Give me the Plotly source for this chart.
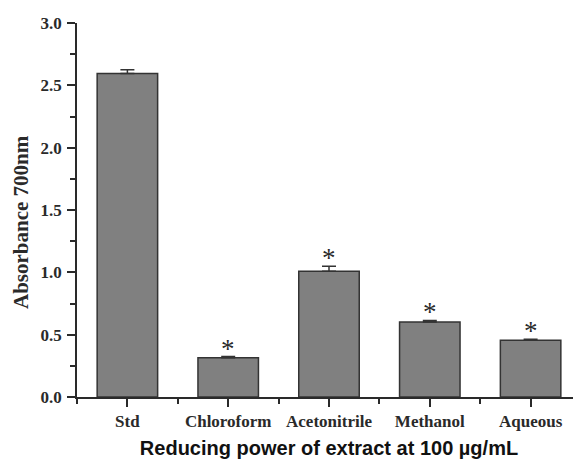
import plotly.graph_objects as go

categories = ["Std", "Chloroform", "Acetonitrile", "Methanol", "Aqueous"]
absorbance = [2.594, 0.314, 1.008, 0.602, 0.456]
errors = [0.03, 0.01, 0.04, 0.012, 0.008]
significance = ["", "*", "*", "*", "*"]
y_ticks = [0.0, 0.5, 1.0, 1.5, 2.0, 2.5, 3.0]

positions = list(range(len(categories)))
serif = "Liberation Serif, Times New Roman, serif"
sans = "Liberation Sans, Arial, sans-serif"
ink = "#2a2a2a"

fig = go.Figure()
fig.add_trace(go.Bar(
    x=positions, y=absorbance, width=0.6,
    marker=dict(color="#808080", line=dict(color="#333333", width=1.5)),
    error_y=dict(type="data", array=errors, arrayminus=[0] * len(errors), symmetric=False,
                 visible=True, color="#333333", thickness=1.5, width=7),
    showlegend=False,
))
for p, a, e, s in zip(positions, absorbance, errors, significance):
    if s:
        fig.add_annotation(x=p, y=a + e, text=s, showarrow=False, xanchor="center",
                           yanchor="bottom", yshift=-9,
                           font=dict(family=serif, size=27, color=ink))

# y-axis title placed as a rotated annotation so it can sit where the reference's does
fig.add_annotation(x=0, y=0.5, xref="paper", yref="paper", xshift=-56, yshift=-12,
                   text="<b>Absorbance 700nm</b>", textangle=-90, showarrow=False,
                   xanchor="center", yanchor="middle",
                   font=dict(family=serif, size=21, color=ink))

# page body has an 8px margin: figure is sized so the plot sits where the reference's does
fig.update_layout(
    width=573, height=451,
    margin=dict(l=69, r=0, t=15, b=62, autoexpand=False),
    paper_bgcolor="white", plot_bgcolor="white",
    bargap=0.4,
)
fig.update_xaxes(
    range=[-0.5, 4.5], tickmode="array", tickvals=positions, ticktext=categories,
    ticks="outside", ticklen=8, tickwidth=1.5, tickcolor=ink, automargin=False,
    showline=True, linecolor=ink, linewidth=1.5, showgrid=False, zeroline=False,
    tickfont=dict(family=serif, size=17, color=ink, weight="bold"),
    minor=dict(tick0=0.5, dtick=1, ticks="outside", ticklen=5, tickwidth=1.5, tickcolor=ink, showgrid=False),
    title=dict(text="<b>Reducing power of extract at 100 µg/mL</b>", font=dict(family=sans, size=20, color="#111"), standoff=14),
)
fig.update_yaxes(
    range=[0, 3.0], tickmode="array", tickvals=y_ticks, ticktext=[f"{v:.1f}" for v in y_ticks],
    ticks="outside", ticklen=8, tickwidth=1.5, tickcolor=ink, automargin=False,
    showline=True, linecolor=ink, linewidth=1.5, showgrid=False, zeroline=False,
    tickfont=dict(family=serif, size=17, color=ink, weight="bold"), ticklabelstandoff=2,
    minor=dict(tick0=0.25, dtick=0.5, ticks="outside", ticklen=5, tickwidth=1.5, tickcolor=ink, showgrid=False),
)

fig.write_html("out.html")
